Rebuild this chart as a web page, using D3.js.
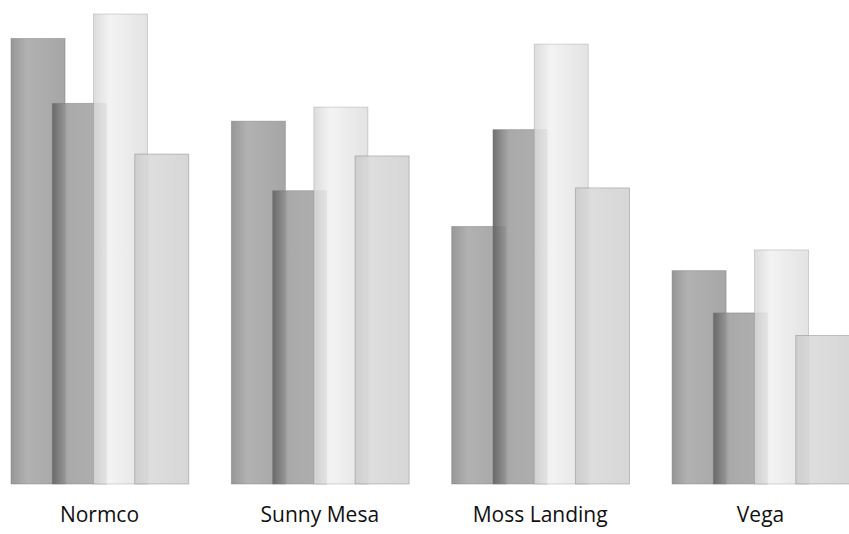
<!DOCTYPE html>
<html>
<head>
<meta charset="utf-8">
<script src="https://cdn.jsdelivr.net/npm/d3@7"></script>
<style>
  body { margin: 0; background: #fff; }
  svg { display: block; }
</style>
</head>
<body>
<div id="chart"></div>
<script>
const width = 849;
const height = 534;
const baseline = 484;

const categories = ["Normco", "Sunny Mesa", "Moss Landing", "Vega"];
const series = ["s1", "s2", "s3", "s4"];

// values per series, one per category
const s1 = [474, 386, 274, 227];
const s2 = [405, 312, 377, 182];
const s3 = [500, 401, 468, 249];
const s4 = [351, 349, 315, 158];
const seriesValues = [s1, s2, s3, s4];

const svg = d3.select("#chart")
              .append("svg")
              .attr("width", width)
              .attr("height", height);

// cylinder-like shading, one gradient per series
const shades = [
    ["#8c8c8c", "#a9a9a9", "#9c9c9c"],
    ["#626262", "#a0a0a0", "#a8a8a8"],
    ["#d6d6d6", "#f1f1f1", "#dedede"],
    ["#cbcbcb", "#dadada", "#d2d2d2"]
];

const defs = svg.append("defs");
series.forEach((s, i) => {
    const g = defs.append("linearGradient")
                  .attr("id", "grad-" + s)
                  .attr("x1", "0").attr("x2", "1")
                  .attr("y1", "0").attr("y2", "0");
    g.append("stop").attr("offset", "0%").attr("stop-color", shades[i][0]);
    g.append("stop").attr("offset", "30%").attr("stop-color", shades[i][1]);
    g.append("stop").attr("offset", "100%").attr("stop-color", shades[i][2]);
});

const xScale = d3.scaleBand()
                 .domain(categories)
                 .range([11, 849])
                 .paddingInner(0.197)
                 .paddingOuter(0);

const xInner = d3.scaleBand()
                 .domain(series)
                 .range([0, 165]);

const barWidth = xInner.bandwidth() * 1.31;

const yScale = d3.scaleLinear()
                 .domain([0, 500])
                 .range([baseline, 14]);

const rows = [];
series.forEach((s, i) => {
    categories.forEach((c, j) => {
        rows.push({ series: s, category: c, value: seriesValues[i][j], idx: i });
    });
});

svg.append("g")
   .selectAll("rect")
   .data(rows)
   .join("rect")
   .attr("x", d => xScale(d.category) + xInner(d.series))
   .attr("y", d => yScale(d.value))
   .attr("width", barWidth)
   .attr("height", d => baseline - yScale(d.value))
   .attr("fill", d => `url(#grad-${d.series})`)
   .attr("fill-opacity", d => d.idx === 2 ? 0.85 : 0.9)
   .attr("stroke", "#777")
   .attr("stroke-opacity", d => d.idx === 2 ? 0.35 : 0.5)
   .attr("stroke-width", 0.8);

const xAxis = svg.append("g")
                 .attr("transform", `translate(0, ${baseline})`)
                 .call(d3.axisBottom(xScale).tickSize(0).tickPadding(23));

xAxis.select(".domain").remove();
xAxis.selectAll("text")
     .attr("fill", "#111")
     .style("font-family", "'Open Sans', sans-serif")
     .style("font-size", "21px");
</script>
</body>
</html>
